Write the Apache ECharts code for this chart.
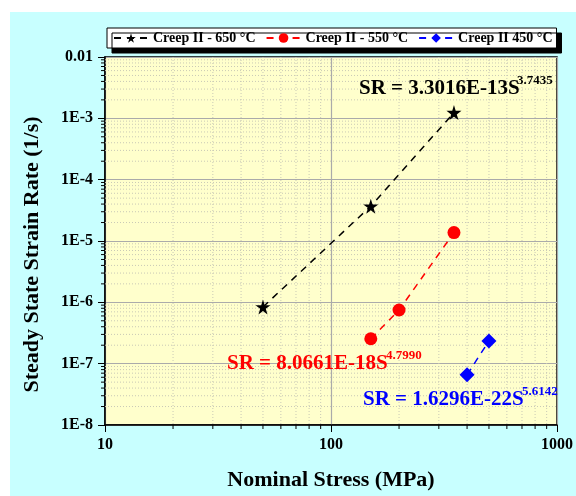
<!DOCTYPE html>
<html>
<head>
<meta charset="utf-8">
<script src="https://cdn.jsdelivr.net/npm/echarts@6/dist/echarts.min.js"></script>
<style>
  html, body { margin: 0; padding: 0; background: #fff; }
  #chart { width: 576px; height: 496px; }
</style>
</head>
<body>
<div id="chart"></div>
<script>
// data (stress in MPa, strain rate in 1/s)
const stress650 = [50, 150, 350];
const rate650 = [8.4e-7, 3.7e-5, 1.24e-3];
const stress550 = [150, 200, 350];
const rate550 = [2.55e-7, 7.5e-7, 1.37e-5];
const stress450 = [400, 500];
const rate450 = [6.6e-8, 2.35e-7];

const seriesNames = ['Creep II - 650 °C', 'Creep II - 550 °C', 'Creep II 450 °C'];
const fitLabels = ['SR = 3.3016E-13S', 'SR = 8.0661E-18S', 'SR = 1.6296E-22S'];
const fitExponents = ['3.7435', '4.7990', '5.6142'];

const X_MIN = 10, X_MAX = 1000;
const Y_MIN = 1e-8, Y_MAX = 0.01;
const xMinor = [20, 30, 40, 50, 60, 70, 80, 90, 200, 300, 400, 500, 600, 700, 800, 900];
const yMinor = [];
for (let e = -8; e < -2; e++) {
  for (let m = 2; m <= 9; m++) yMinor.push(m * Math.pow(10, e));
}

const FONT = 'Liberation Serif';
const STAR = 'path://M50,0 L61,35 L98,35 L68,57 L79,91 L50,70 L21,91 L32,57 L2,35 L39,35 Z';
const DIAMOND = 'path://M50,0 L100,50 L50,100 L0,50 Z';

function pairs(xs, ys) {
  return xs.map((x, i) => [x, ys[i]]);
}

function xMinorItem(params, api) {
  const b = api.coord([api.value(0), Y_MIN]);
  const t = api.coord([api.value(0), Y_MAX]);
  return {
    type: 'group',
    children: [
      { type: 'line', shape: { x1: b[0], y1: t[1], x2: b[0], y2: b[1] },
        style: { stroke: '#c9c9b6', lineWidth: 1, lineDash: [1, 2] } },
      { type: 'line', shape: { x1: b[0], y1: b[1], x2: b[0], y2: b[1] + 4 },
        style: { stroke: '#000', lineWidth: 1 } }
    ]
  };
}

function yMinorItem(params, api) {
  const l = api.coord([X_MIN, api.value(1)]);
  const r = api.coord([X_MAX, api.value(1)]);
  return {
    type: 'group',
    children: [
      { type: 'line', shape: { x1: l[0], y1: l[1], x2: r[0], y2: l[1] },
        style: { stroke: '#c9c9b6', lineWidth: 1, lineDash: [1, 2] } },
      { type: 'line', shape: { x1: l[0] - 4, y1: l[1], x2: l[0], y2: l[1] },
        style: { stroke: '#000', lineWidth: 1 } }
    ]
  };
}

function mainSeries(name, data, color, symbol, size) {
  return {
    name: name,
    type: 'line',
    data: data,
    symbol: symbol,
    symbolSize: size,
    z: 5,
    lineStyle: { color: color, width: 1.5, type: [7, 6] },
    itemStyle: { color: color }
  };
}

const chart = echarts.init(document.getElementById('chart'));
chart.setOption({
  animation: false,
  backgroundColor: '#c8ffff',
  textStyle: { fontFamily: FONT },
  legend: {
    data: seriesNames,
    left: 107,
    top: 28,
    padding: [3, 4, 3, 6],
    itemGap: 10,
    itemWidth: 34,
    itemHeight: 12,
    backgroundColor: '#fff',
    borderColor: '#000',
    borderWidth: 1,
    shadowColor: '#000',
    shadowBlur: 0,
    shadowOffsetX: 5,
    shadowOffsetY: 5,
    textStyle: { fontFamily: FONT, fontSize: 14, fontWeight: 'bold', color: '#000' }
  },
  grid: {
    left: 105, right: 16, top: 57, bottom: 68,
    show: true,
    backgroundColor: '#ffffcc',
    borderColor: '#000',
    borderWidth: 1.5
  },
  xAxis: {
    type: 'log',
    logBase: 10,
    min: X_MIN,
    max: X_MAX,
    name: 'Nominal Stress (MPa)',
    nameLocation: 'middle',
    nameGap: 44,
    nameTextStyle: { fontFamily: FONT, fontSize: 22, fontWeight: 'bold', color: '#000' },
    axisLine: { lineStyle: { color: '#000', width: 1.5 } },
    axisTick: { length: 7, lineStyle: { color: '#000' } },
    axisLabel: {
      margin: 12, fontFamily: FONT, fontSize: 16, fontWeight: 'bold', color: '#000',
      formatter: v => String(Math.round(v))
    },
    splitLine: { show: true, lineStyle: { color: '#aaa', width: 1.2 } }
  },
  yAxis: {
    type: 'log',
    logBase: 10,
    min: Y_MIN,
    max: Y_MAX,
    name: 'Steady State Strain Rate (1/s)',
    nameLocation: 'middle',
    nameGap: 62,
    nameRotate: 90,
    nameTextStyle: { fontFamily: FONT, fontSize: 22, fontWeight: 'bold', color: '#000', padding: [0, 27, 0, 0] },
    axisLine: { lineStyle: { color: '#000', width: 1.5 } },
    axisTick: { length: 7, lineStyle: { color: '#000' } },
    axisLabel: {
      margin: 12, fontFamily: FONT, fontSize: 16, fontWeight: 'bold', color: '#000',
      formatter: v => {
        const e = Math.round(Math.log10(v));
        return e === -2 ? '0.01' : '1E' + e;
      }
    },
    splitLine: { show: true, lineStyle: { color: '#aaa', width: 1.2 } }
  },
  series: [
    {
      type: 'custom', name: 'xminor', silent: true, clip: false, z: 1,
      renderItem: xMinorItem,
      data: xMinor.map(v => [v, Y_MIN])
    },
    {
      type: 'custom', name: 'yminor', silent: true, clip: false, z: 1,
      renderItem: yMinorItem,
      data: yMinor.map(v => [X_MIN, v])
    },
    mainSeries(seriesNames[0], pairs(stress650, rate650), '#000', STAR, 15),
    mainSeries(seriesNames[1], pairs(stress550, rate550), '#ff0000', 'circle', 13),
    mainSeries(seriesNames[2], pairs(stress450, rate450), '#0000ff', DIAMOND, 15)
  ],
  graphic: [
    { type: 'rect', left: 0, top: 0, shape: { width: 576, height: 12 }, style: { fill: '#fff' } },
    { type: 'rect', left: 0, top: 0, shape: { width: 10, height: 496 }, style: { fill: '#fff' } },
    { type: 'text', z: 100, style: { x: 359, y: 89, text: fitLabels[0], fill: '#000',
      font: 'bold 21px "Liberation Serif"', verticalAlign: 'middle' } },
    { type: 'text', z: 100, style: { x: 517, y: 81, text: fitExponents[0], fill: '#000',
      font: 'bold 13px "Liberation Serif"', verticalAlign: 'middle' } },
    { type: 'text', z: 100, style: { x: 227, y: 364, text: fitLabels[1], fill: '#ff0000',
      font: 'bold 21px "Liberation Serif"', verticalAlign: 'middle' } },
    { type: 'text', z: 100, style: { x: 386, y: 356, text: fitExponents[1], fill: '#ff0000',
      font: 'bold 13px "Liberation Serif"', verticalAlign: 'middle' } },
    { type: 'text', z: 100, style: { x: 363, y: 400, text: fitLabels[2], fill: '#0000ff',
      font: 'bold 21px "Liberation Serif"', verticalAlign: 'middle' } },
    { type: 'text', z: 100, style: { x: 522, y: 392, text: fitExponents[2], fill: '#0000ff',
      font: 'bold 13px "Liberation Serif"', verticalAlign: 'middle' } }
  ]
});
</script>
</body>
</html>
